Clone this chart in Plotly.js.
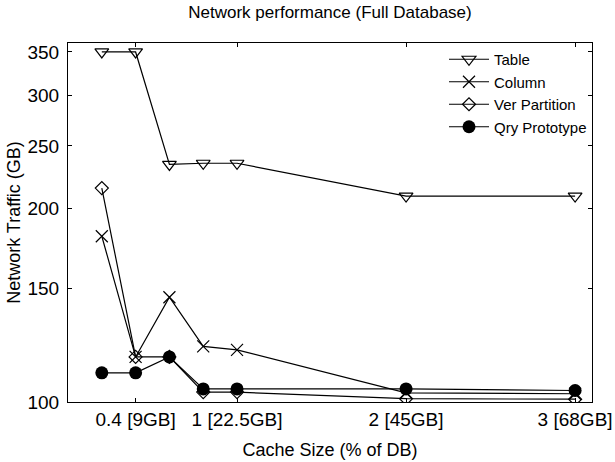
<!DOCTYPE html>
<html>
<head>
<meta charset="utf-8">
<script src="https://cdn.plot.ly/plotly-3.0.1.min.js"></script>
<style>html,body{margin:0;padding:0;background:#fff;}#chart{width:615px;height:462px;}</style>
</head>
<body>
<div id="chart"></div>
<script>
const cacheSize = [0.2, 0.4, 0.6, 0.8, 1, 2, 3];
const tableTraffic = [350, 350, 234, 235, 235, 209, 209];
const columnTraffic = [181, 117.5, 145.5, 122, 120.5, 103.3, 103];
const verPartitionTraffic = [215, 117.5, 117.5, 103.6, 103.6, 101.2, 101];
const qryPrototypeTraffic = [111, 111, 117.5, 104.8, 104.8, 104.8, 104.2];
const xTickVals = [0.4, 1, 2, 3];
const xTickText = ['0.4 [9GB]', '1 [22.5GB]', '2 [45GB]', '3 [68GB]'];
const yTickVals = [100, 150, 200, 250, 300, 350];

const FONT = 'Liberation Sans, Arial, sans-serif';
const lineStyle = {color: '#000', width: 1.2};

const traces = [
  {name: 'Table', x: cacheSize, y: tableTraffic, mode: 'lines+markers', line: lineStyle,
   marker: {symbol: 'triangle-down-open', size: 12, color: '#000', line: {width: 1.2, color: '#000'}}},
  {name: 'Column', x: cacheSize, y: columnTraffic, mode: 'lines+markers', line: lineStyle,
   marker: {symbol: 'x-thin-open', size: 12, color: '#000', line: {width: 1.2, color: '#000'}}},
  {name: 'Ver Partition', x: cacheSize, y: verPartitionTraffic, mode: 'lines+markers', line: lineStyle,
   marker: {symbol: 'diamond-open', size: 10, color: '#000', line: {width: 1.2, color: '#000'}}},
  {name: 'Qry Prototype', x: cacheSize, y: qryPrototypeTraffic, mode: 'lines+markers', line: lineStyle,
   marker: {symbol: 'circle', size: 13, color: '#000'}}
];

const layout = {
  width: 615, height: 462,
  margin: {l: 68, r: 23, t: 43, b: 60},
  paper_bgcolor: '#fff', plot_bgcolor: '#fff',
  font: {family: FONT, size: 18, color: '#000'},
  title: {text: 'Network performance (Full Database)', font: {family: FONT, size: 17, color: '#000'},
          x: 0.5, xanchor: 'center', y: 0.973, yanchor: 'middle', xref: 'paper'},
  xaxis: {
    range: [0, 3.1], tickvals: xTickVals, ticktext: xTickText,
    showline: true, linecolor: '#000', linewidth: 1, mirror: 'ticks',
    ticks: 'inside', ticklen: 4, tickcolor: '#000', showgrid: false, zeroline: false,
    tickfont: {family: FONT, size: 19, color: '#000'},
    title: {text: 'Cache Size (% of DB)', font: {family: FONT, size: 18, color: '#000'}, standoff: 14}
  },
  yaxis: {
    type: 'log', range: [2, 2.558], tickvals: yTickVals, ticktext: yTickVals.map(String),
    showline: true, linecolor: '#000', linewidth: 1, mirror: 'ticks',
    ticks: 'inside', ticklen: 4, tickcolor: '#000', showgrid: false, zeroline: false,
    ticklabelstandoff: 4,
    tickfont: {family: FONT, size: 19, color: '#000'},
    title: {text: 'Network Traffic (GB)', font: {family: FONT, size: 18, color: '#000'}, standoff: 2}
  },
  legend: {
    x: 1, xanchor: 'right', y: 1, yanchor: 'top',
    bgcolor: 'rgba(0,0,0,0)', borderwidth: 0,
    font: {family: FONT, size: 15, color: '#000'},
    tracegroupgap: 0, itemwidth: 40
  },
  showlegend: true
};

Plotly.newPlot('chart', traces, layout, {displayModeBar: false, staticPlot: true});
</script>
</body>
</html>
